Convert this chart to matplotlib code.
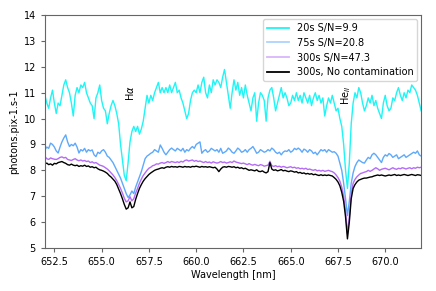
import numpy as np
import matplotlib
matplotlib.use("Agg")
import matplotlib.pyplot as plt

# wavelength sampling grid [nm]
wl = np.round(np.arange(652.0, 671.95, 0.1), 1)

flux_20s = [
    10.9, 10.6, 10.4, 10.8, 11.1, 10.6, 10.2, 10.6, 10.5, 10.9,
    11.3, 11.5, 11.2, 11.0, 10.6, 10.1, 10.9, 11.2, 11.0, 11.3,
    11.2, 11.4, 11.0, 10.8, 10.6, 10.5, 10.0, 10.8, 11.0, 11.3,
    10.7, 10.4, 10.3, 9.8, 10.2, 10.5, 10.7, 10.5, 10.2, 9.8,
    9.0, 8.4, 7.8, 7.6, 8.3, 9.1, 9.5, 9.7, 9.5, 9.7,
    9.4, 9.6, 9.9, 10.4, 10.9, 10.6, 10.9, 10.7, 11.0, 11.2,
    11.4, 11.0, 11.2, 11.0, 11.2, 11.0, 11.3, 11.0, 11.2, 11.4,
    11.0, 11.1, 10.8, 10.6, 10.3, 10.0, 10.2, 10.7, 11.0, 11.1,
    11.0, 11.3, 11.0, 11.4, 11.6, 11.0, 10.8, 11.3, 11.0, 11.5,
    11.3, 11.5, 11.4, 11.2, 11.6, 11.9, 11.4, 10.9, 10.4, 11.0,
    11.5, 11.1, 11.4, 10.9, 11.2, 10.8, 11.3, 10.9, 10.6, 10.3,
    10.8, 11.0, 9.9, 10.6, 11.0, 10.9, 10.7, 9.9, 10.8, 11.1,
    11.2, 10.8, 10.3, 10.6, 10.9, 11.2, 10.8, 11.0, 10.8, 10.5,
    10.6, 10.9, 10.7, 11.0, 10.7, 10.9, 10.6, 11.0, 10.8, 10.6,
    10.9, 10.5, 10.8, 11.0, 10.7, 10.9, 10.6, 10.8, 10.1, 10.5,
    10.8, 10.6, 10.9, 10.6, 10.3, 10.4, 10.0, 9.7, 9.0, 8.0,
    7.3, 8.3, 9.8, 10.6, 11.0, 10.8, 11.2, 11.0, 10.6, 10.3,
    10.5, 10.8, 10.6, 10.9, 10.5, 10.7, 10.4, 10.2, 10.0, 10.6,
    10.9, 10.5, 10.3, 10.4, 10.8, 10.7, 11.0, 11.2, 10.9, 10.7,
    11.0, 10.8, 11.1, 11.0, 11.3, 11.2, 11.1, 10.9, 10.6, 10.3,
]

flux_75s = [
    8.8, 8.9, 8.85, 9.05, 9.0, 8.9, 8.75, 8.67, 8.9, 9.1,
    9.25, 9.37, 9.1, 8.92, 9.0, 8.95, 9.05, 8.9, 8.67, 8.8,
    8.75, 8.85, 8.7, 8.8, 8.75, 8.79, 8.6, 8.53, 8.7, 8.65,
    8.75, 8.8, 8.7, 8.55, 8.5, 8.4, 8.3, 8.15, 8.0, 7.85,
    7.7, 7.5, 7.3, 7.1, 6.95, 7.05, 7.2, 7.1, 7.35, 7.55,
    7.75, 7.95, 8.2, 8.45, 8.55, 8.6, 8.66, 8.7, 8.8, 8.75,
    8.7, 8.98, 8.85, 8.7, 8.6, 8.7, 8.8, 8.86, 8.8, 8.75,
    8.85, 8.8, 8.75, 8.85, 8.7, 8.8, 8.75, 8.85, 8.92, 8.85,
    9.0, 9.05, 9.1, 8.66, 8.75, 8.8, 8.7, 8.75, 8.85, 8.8,
    8.75, 8.8, 8.7, 8.85, 8.66, 8.7, 8.75, 8.86, 8.8, 8.7,
    8.66, 8.75, 8.86, 8.8, 8.7, 8.73, 8.8, 8.7, 8.8, 8.85,
    8.92, 8.8, 8.66, 8.7, 8.8, 8.75, 8.7, 8.73, 8.8, 8.75,
    8.86, 8.8, 8.7, 8.65, 8.7, 8.6, 8.7, 8.75, 8.73, 8.8,
    8.7, 8.75, 8.85, 8.8, 8.86, 8.8, 8.7, 8.82, 8.78, 8.7,
    8.8, 8.75, 8.65, 8.7, 8.6, 8.7, 8.8, 8.75, 8.8, 8.7,
    8.8, 8.75, 8.7, 8.72, 8.66, 8.55, 8.28, 8.0, 7.5, 6.9,
    6.25, 6.8, 7.5, 7.9, 8.15, 8.3, 8.4, 8.35, 8.3, 8.28,
    8.4, 8.5, 8.45, 8.6, 8.66, 8.6, 8.5, 8.4, 8.3, 8.5,
    8.6, 8.55, 8.65, 8.6, 8.5, 8.55, 8.6, 8.45, 8.5, 8.55,
    8.6, 8.5, 8.55, 8.6, 8.65, 8.7, 8.66, 8.75, 8.6, 8.55,
]

flux_300s = [
    8.53, 8.45, 8.42, 8.48, 8.45, 8.43, 8.42, 8.45, 8.5, 8.52,
    8.48, 8.5, 8.42, 8.4, 8.38, 8.42, 8.45, 8.4, 8.37, 8.4,
    8.36, 8.38, 8.34, 8.36, 8.3, 8.33, 8.28, 8.3, 8.25, 8.2,
    8.18, 8.15, 8.1, 8.05, 7.98, 7.9, 7.82, 7.72, 7.6, 7.45,
    7.3, 7.12, 6.92, 6.78, 6.82, 6.98, 6.82, 6.9, 7.12, 7.3,
    7.5, 7.66, 7.8, 7.9, 8.0, 8.08, 8.12, 8.18, 8.2, 8.25,
    8.24, 8.28, 8.3, 8.27, 8.3, 8.34, 8.3, 8.34, 8.32, 8.3,
    8.33, 8.3, 8.35, 8.32, 8.38, 8.4, 8.36, 8.38, 8.4, 8.35,
    8.38, 8.34, 8.36, 8.33, 8.3, 8.34, 8.3, 8.32, 8.28, 8.33,
    8.3, 8.28, 8.3, 8.34, 8.3, 8.32, 8.28, 8.3, 8.33, 8.3,
    8.36, 8.32, 8.3, 8.28, 8.26, 8.28, 8.25, 8.22, 8.26, 8.22,
    8.2, 8.23, 8.2, 8.18, 8.22, 8.2, 8.16, 8.18, 8.2, 8.35,
    8.18, 8.15, 8.18, 8.14, 8.16, 8.12, 8.15, 8.13, 8.1, 8.12,
    8.14, 8.1, 8.12, 8.08, 8.1, 8.06, 8.08, 8.05, 8.08, 8.03,
    8.05, 8.02, 8.0, 8.03, 7.98, 8.0, 7.97, 8.0, 7.96, 7.98,
    8.0, 7.97, 7.95, 7.9, 7.82, 7.72, 7.58, 7.35, 7.0, 6.4,
    5.55, 6.2, 7.1, 7.5, 7.65, 7.75, 7.82, 7.88, 7.9, 7.93,
    7.95, 8.0, 7.96, 8.0, 8.05, 8.1, 8.06, 8.0, 8.04, 8.06,
    8.08, 8.05, 8.02, 8.06, 8.1, 8.06, 8.04, 8.08, 8.06, 8.1,
    8.08, 8.05, 8.08, 8.1, 8.06, 8.1, 8.08, 8.12, 8.1, 8.12,
]

flux_clean = [
    8.25, 8.28, 8.22, 8.25, 8.2, 8.27, 8.25, 8.3, 8.32, 8.34,
    8.3, 8.27, 8.22, 8.2, 8.24, 8.2, 8.18, 8.2, 8.15, 8.18,
    8.16, 8.2, 8.15, 8.17, 8.12, 8.14, 8.1, 8.12, 8.06, 8.02,
    8.0, 7.97, 7.93, 7.88, 7.8, 7.74, 7.66, 7.58, 7.45, 7.28,
    7.1, 6.9, 6.68, 6.5, 6.55, 6.78, 6.55, 6.6, 6.88, 7.1,
    7.3, 7.45, 7.58, 7.68, 7.76, 7.84, 7.9, 7.95, 8.0, 8.03,
    8.05, 8.08, 8.1, 8.08, 8.12, 8.14, 8.12, 8.15, 8.13, 8.14,
    8.12, 8.15, 8.14, 8.12, 8.15, 8.13, 8.14, 8.12, 8.15, 8.14,
    8.16, 8.14, 8.12, 8.15, 8.13, 8.14, 8.12, 8.14, 8.12, 8.1,
    8.12, 8.05, 7.95, 8.05, 8.12, 8.14, 8.12, 8.15, 8.14, 8.12,
    8.14, 8.1, 8.12, 8.08, 8.1, 8.06, 8.08, 8.04, 8.0, 8.02,
    8.0, 7.98, 8.02, 7.96, 7.95, 7.98, 7.93, 7.9, 7.95, 8.3,
    8.05, 8.0, 8.02, 7.98, 8.0, 8.03, 7.98, 8.0, 7.97, 7.95,
    7.98, 7.96, 7.93, 7.95, 7.9, 7.92, 7.88, 7.9, 7.86, 7.88,
    7.85, 7.87, 7.83, 7.85, 7.82, 7.8, 7.83, 7.8, 7.82, 7.8,
    7.82, 7.8, 7.78, 7.72, 7.65, 7.55, 7.4, 7.15, 6.8, 6.2,
    5.35, 6.0, 6.9, 7.3, 7.45, 7.55, 7.62, 7.65, 7.68, 7.7,
    7.7, 7.72, 7.74, 7.75, 7.78, 7.8, 7.82, 7.8, 7.82, 7.8,
    7.78, 7.8, 7.82, 7.8, 7.82, 7.84, 7.8, 7.82, 7.8, 7.82,
    7.84, 7.82, 7.8, 7.82, 7.84, 7.82, 7.8, 7.83, 7.82, 7.8,
]

labels = ["20s S/N=9.9", "75s S/N=20.8", "300s S/N=47.3", "300s, No contamination"]
colors = ["#1ff5f5", "#5ea9fb", "#b46cf5", "black"]
handle_alpha = [1.0, 0.5, 0.5, 1.0]

fig = plt.figure(figsize=(4.36, 2.91), dpi=100)
ax = fig.add_axes([0.103, 0.148, 0.863, 0.8])

for flux, lab, col in zip([flux_20s, flux_75s, flux_300s, flux_clean], labels, colors):
    ax.plot(wl, flux, color=col, lw=1.0, label=lab)

ax.text(656.5, 11.0, r"H$\alpha$", rotation=90, ha="center", va="center", fontsize=7)
ax.text(667.95, 10.9, r"He$_{II}$", rotation=90, ha="center", va="center", fontsize=7)

ax.set_xlim(652.0, 671.9)
ax.set_ylim(5, 14)
ax.set_xticks([652.5, 655.0, 657.5, 660.0, 662.5, 665.0, 667.5, 670.0])
ax.set_xlabel("Wavelength [nm]", fontsize=7, labelpad=2)
ax.set_ylabel("photons.pix-1.s-1", fontsize=7, labelpad=3)
ax.tick_params(labelsize=7, color="#666666", length=3)
for s in ax.spines.values():
    s.set_color("#666666")

leg = ax.legend(loc="upper right", fontsize=7, handlelength=2.3, borderaxespad=0.4)
for h, a in zip(leg.get_lines(), handle_alpha):
    h.set_alpha(a)
    h.set_linewidth(1.3)

fig.savefig("out.png", dpi=100)
